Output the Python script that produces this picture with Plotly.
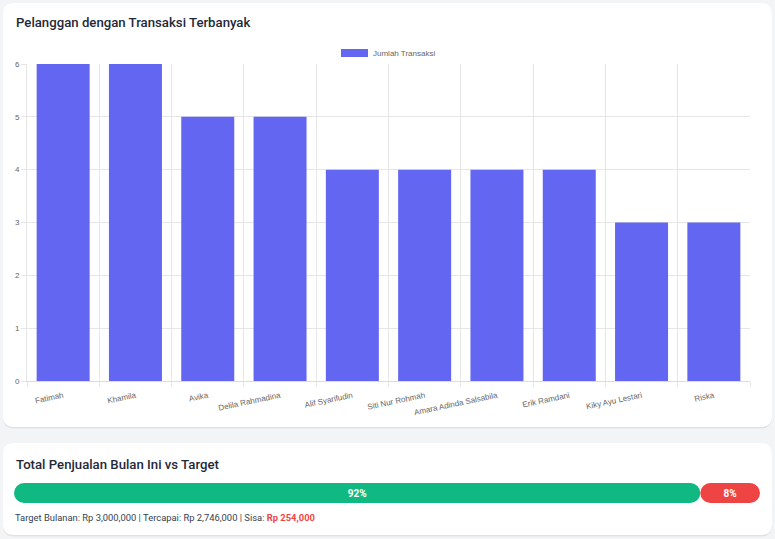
import plotly.graph_objects as go

W, H = 775, 539

customers = ["Fatimah", "Khamila", "Avika", "Delila Rahmadina", "Alif Syarifudin",
             "Siti Nur Rohmah", "Amara Adinda Salsabila", "Erik Ramdani",
             "Kiky Ayu Lestari", "Riska"]
transactions = [6, 6, 5, 5, 4, 4, 4, 4, 3, 3]
series_name = "Jumlah Transaksi"

target = 3000000
achieved = 2746000
remaining = target - achieved
pct_achieved = round(achieved / target * 100)
pct_remaining = 100 - pct_achieved

BAR = "#6366f1"
GREEN = "#10b981"
RED = "#ef4444"
UI_FONT = "Roboto"


def px_x(x):
    return x / W


def px_y(y):
    return 1 - y / H


def rounded_rect(x0, y0, x1, y1, r):
    a, b = px_x(x0), px_x(x1)
    top, bot = px_y(y0), px_y(y1)
    rx, ry = r / W, r / H
    return (f"M {a+rx},{top} L {b-rx},{top} Q {b},{top} {b},{top-ry} "
            f"L {b},{bot+ry} Q {b},{bot} {b-rx},{bot} L {a+rx},{bot} "
            f"Q {a},{bot} {a},{bot+ry} L {a},{top-ry} Q {a},{top} {a+rx},{top} Z")


fig = go.Figure()

fig.add_trace(go.Bar(
    x=customers, y=transactions, name=series_name,
    marker=dict(color=BAR, line=dict(width=0)),
    xaxis="x", yaxis="y", showlegend=False,
))

# progress bar: green grows back from the split point to 0 so its tip (left) is rounded
fig.add_trace(go.Bar(
    y=["p"], x=[-pct_achieved], base=[pct_achieved], orientation="h",
    marker=dict(color=GREEN, cornerradius=10, line=dict(width=0)),
    text=[f"{pct_achieved}%"], textposition="inside", insidetextanchor="middle",
    textfont=dict(color="white", size=10, family=UI_FONT, weight="bold"),
    xaxis="x2", yaxis="y2", showlegend=False, textangle=0,
))
fig.add_trace(go.Bar(
    y=["p"], x=[pct_remaining], base=[pct_achieved], orientation="h",
    marker=dict(color=RED, cornerradius=10, line=dict(width=0)),
    text=[f"{pct_remaining}%"], textposition="inside", insidetextanchor="middle",
    textfont=dict(color="white", size=10, family=UI_FONT, weight="bold"),
    xaxis="x2", yaxis="y2", showlegend=False, textangle=0,
))

shapes = []
for (x0, y0, x1, y1) in [(3, 3, 772, 427), (3, 443, 772, 535)]:
    shapes.append(dict(type="path", xref="paper", yref="paper", layer="below",
                       path=rounded_rect(x0, y0 + 1, x1, y1 + 1.5, 11),
                       fillcolor="rgba(0,0,0,0.07)", line=dict(width=0)))
    shapes.append(dict(type="path", xref="paper", yref="paper", layer="below",
                       path=rounded_rect(x0, y0, x1, y1, 11),
                       fillcolor="white", line=dict(width=0)))
# legend box
shapes.append(dict(type="rect", xref="paper", yref="paper", layer="above",
                   x0=px_x(341), x1=px_x(368), y0=px_y(57), y1=px_y(49),
                   fillcolor=BAR, line=dict(width=0)))

annotations = [
    dict(text="Pelanggan dengan Transaksi Terbanyak", xref="paper", yref="paper",
         x=px_x(14), y=px_y(23), xanchor="left", yanchor="middle", showarrow=False,
         font=dict(family=UI_FONT, size=13.2, color="#1f2937", weight=500)),
    dict(text="Total Penjualan Bulan Ini vs Target", xref="paper", yref="paper",
         x=px_x(14), y=px_y(464), xanchor="left", yanchor="middle", showarrow=False,
         font=dict(family=UI_FONT, size=13.2, color="#1f2937", weight=500)),
    dict(text=series_name, xref="paper", yref="paper",
         x=px_x(371), y=px_y(53), xanchor="left", yanchor="middle", showarrow=False,
         font=dict(family="Liberation Sans", size=8, color="#666666")),
    dict(text=(f"Target Bulanan: Rp {target:,} | Tercapai: Rp {achieved:,} | Sisa: "
               f"<span style='color:{RED}'><b>Rp {remaining:,}</b></span>"),
         xref="paper", yref="paper", x=px_x(13), y=px_y(517), xanchor="left",
         yanchor="middle", showarrow=False,
         font=dict(family=UI_FONT, size=9.4, color="#374151")),
]

axis_font = dict(family="Liberation Sans", size=8, color="#666666")
fig.update_layout(
    width=W, height=H, margin=dict(l=0, r=0, t=0, b=0, autoexpand=False),
    paper_bgcolor="#f3f4f6", plot_bgcolor="rgba(0,0,0,0)",
    bargap=0.267, barmode="overlay",
    shapes=shapes, annotations=annotations,
    xaxis=dict(domain=[px_x(27), px_x(750)], anchor="y", type="category",
               tickson="boundaries", showgrid=True, gridcolor="#e6e6e6", gridwidth=1,
               ticks="outside", ticklen=5, tickcolor="#e6e6e6",
               showline=True, linecolor="#dcdcdc", linewidth=1,
               tickangle=-12, ticklabelstandoff=6, tickfont=axis_font,
               zeroline=False, fixedrange=True, automargin=False),
    yaxis=dict(domain=[px_y(381), px_y(64)], anchor="x", range=[0, 6], dtick=1,
               showgrid=True, gridcolor="#e6e6e6", gridwidth=1,
               ticks="outside", ticklen=5, tickcolor="#e6e6e6",
               showline=True, linecolor="#e6e6e6", zeroline=False,
               tickfont=axis_font, fixedrange=True, automargin=False),
    xaxis2=dict(domain=[px_x(14), px_x(760)], anchor="y2", range=[0, 100],
                visible=False, fixedrange=True, automargin=False),
    yaxis2=dict(domain=[px_y(503), px_y(483)], anchor="x2", visible=False,
                fixedrange=True, automargin=False),
)
fig.update_traces(selector=dict(orientation="h"), width=1)

fig.write_html("out.html")
